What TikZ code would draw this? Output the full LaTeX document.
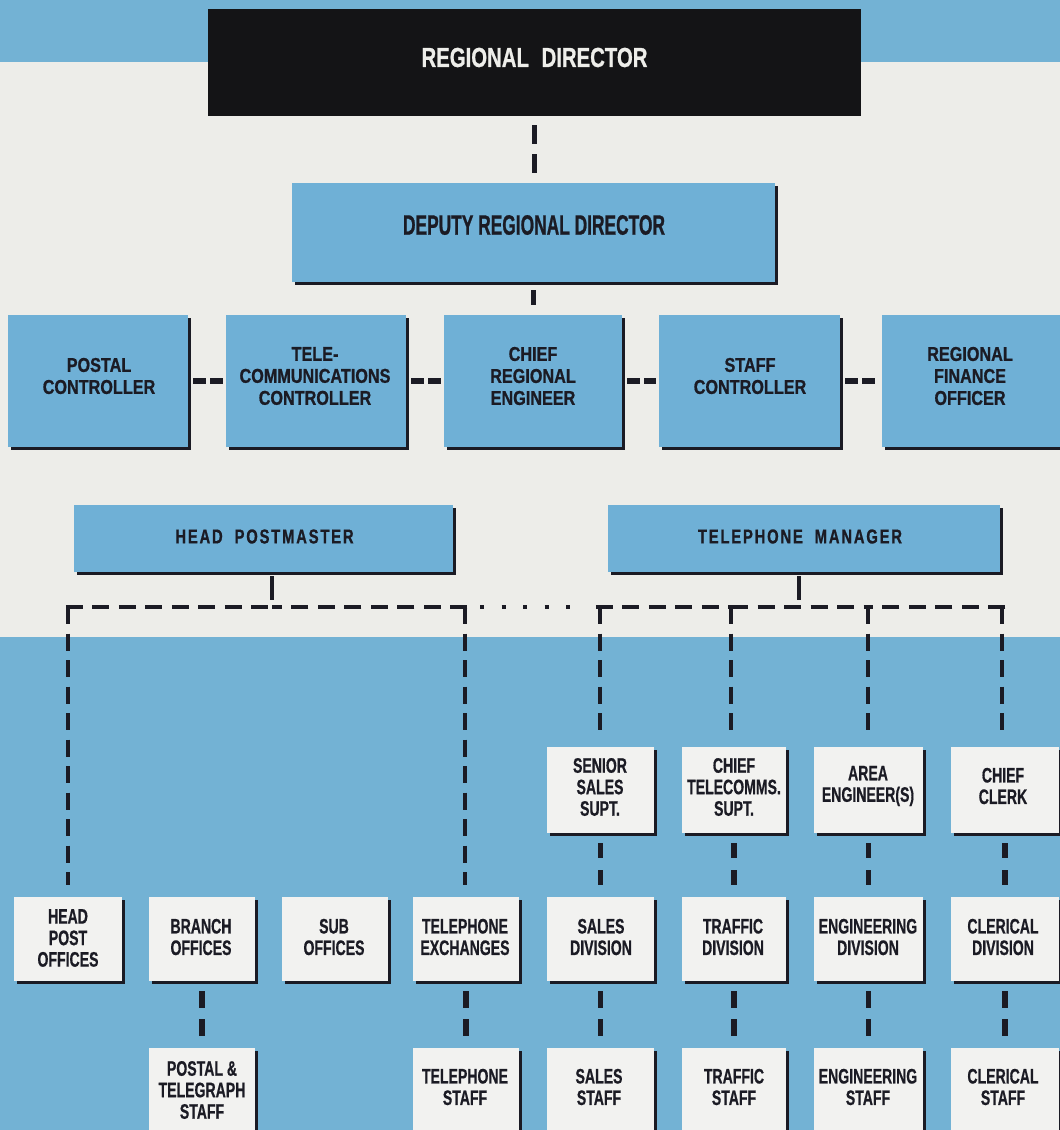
\documentclass[tikz,border=0pt]{standalone}
\usepackage{fontspec}
\setmainfont{Liberation Sans}
\newfontfamily\fRD{Liberation Sans}[FakeStretch=0.74,FakeBold=0.8]
\newfontfamily\fDRD{Liberation Sans}[FakeStretch=0.62,FakeBold=0.8]
\newfontfamily\fRow{Liberation Sans}[FakeStretch=0.81,FakeBold=0.9]
\newfontfamily\fMgr{Liberation Sans}[FakeStretch=0.74,LetterSpace=9,FakeBold=0.9]
\newfontfamily\fLow{Liberation Sans}[FakeStretch=0.67,FakeBold=0.6]
\usetikzlibrary{shadows}
\definecolor{bgblue}{HTML}{73B2D4}
\definecolor{boxblue}{HTML}{6FB0D6}
\definecolor{paper}{HTML}{EDEDE9}
\definecolor{wbox}{HTML}{F2F2F0}
\definecolor{ink}{HTML}{1B1B24}
\definecolor{rdblack}{HTML}{141416}
\definecolor{rdtext}{HTML}{EEEEEA}
\tikzset{
  shad/.style={drop shadow={shadow xshift=3pt,shadow yshift=-3pt,fill=ink,opacity=1}},
  bbox/.style={rectangle, fill=boxblue, inner sep=0pt, shad},
  wbx/.style={rectangle, fill=wbox, inner sep=0pt, shad},
  lbl/.style={align=center, inner sep=0pt, text=ink},
  rowtxt/.style={lbl, font=\fRow\bfseries\fontsize{20}{22}\selectfont},
  mgrtxt/.style={lbl, font=\fMgr\bfseries\fontsize{20}{22}\selectfont},
  lowtxt/.style={lbl, font=\fLow\bfseries\fontsize{21}{21.5}\selectfont},
  link/.style={draw=ink, line width=5.5pt},
  bus/.style={draw=ink, line width=4.5pt, dash pattern=on 17pt off 9.5pt},
}
\begin{document}
\begin{tikzpicture}[x=1pt,y=-1pt]
\useasboundingbox (0,0) rectangle (1060,1130);
% background
\fill[bgblue] (0,0) rectangle (1060,62);
\fill[paper] (0,62) rectangle (1060,637);
\fill[bgblue] (0,637) rectangle (1060,1130);

% top
\node[rectangle, fill=rdblack, inner sep=0pt, minimum width=653pt, minimum height=107pt] (RD) at (534.5,62.5) {};
\node[lbl, text=rdtext, font=\fRD\bfseries\fontsize{27.5}{30}\selectfont] (RDt) at (534.5,57.5) {REGIONAL\hspace{7pt} DIRECTOR};

\node[bbox, minimum width=483pt, minimum height=99pt] (DRD) at (533.5,232.5) {};
\node[lbl, font=\fDRD\bfseries\fontsize{28}{30}\selectfont] (DRDt) at (534,225) {DEPUTY REGIONAL DIRECTOR};

% row 2
\node[bbox, minimum width=180pt, minimum height=132pt] (PC) at (98,381) {};
\node[bbox, minimum width=180pt, minimum height=132pt] (TC) at (316,381) {};
\node[bbox, minimum width=178pt, minimum height=132pt] (CRE) at (533,381) {};
\node[bbox, minimum width=181pt, minimum height=132pt] (SC) at (749.5,381) {};
\node[bbox, minimum width=178pt, minimum height=132pt] (RFO) at (971,381) {};
\node[rowtxt] (PCt) at (99,376) {POSTAL\\CONTROLLER};
\node[rowtxt] (TCt) at (315,376) {TELE-\\COMMUNICATIONS\\CONTROLLER};
\node[rowtxt] (CREt) at (533,376) {CHIEF\\REGIONAL\\ENGINEER};
\node[rowtxt] (SCt) at (750,376) {STAFF\\CONTROLLER};
\node[rowtxt] (RFOt) at (970,376) {REGIONAL\\FINANCE\\OFFICER};

% row 3
\node[bbox, minimum width=379pt, minimum height=67pt] (HP) at (263.5,538.5) {};
\node[bbox, minimum width=392pt, minimum height=67pt] (TM) at (804,538.5) {};
\node[mgrtxt] (HPt) at (264.5,536.5) {HEAD\hspace{6pt} POSTMASTER};
\node[mgrtxt] (TMt) at (800,536.5) {TELEPHONE\hspace{6pt} MANAGER};

% telephone upper row
\node[wbx, minimum width=107pt, minimum height=86pt] (SSS) at (600.5,790) {};
\node[wbx, minimum width=104pt, minimum height=86pt] (CTS) at (734,790) {};
\node[wbx, minimum width=109pt, minimum height=86pt] (AE) at (868.5,790) {};
\node[wbx, minimum width=108pt, minimum height=86pt] (CC) at (1005,790) {};
\node[lowtxt] (SSSt) at (600,787) {SENIOR\\SALES\\SUPT.};
\node[lowtxt] (CTSt) at (734,787) {CHIEF\\TELECOMMS.\\SUPT.};
\node[lowtxt] (AEt) at (868,786) {AREA\\ENGINEER(S)};
\node[lowtxt] (CCt) at (1003,786) {CHIEF\\CLERK};

% division row
\node[wbx, minimum width=108pt, minimum height=84pt] (HPO) at (68,939) {};
\node[wbx, minimum width=106pt, minimum height=84pt] (BO) at (202,939) {};
\node[wbx, minimum width=106pt, minimum height=84pt] (SO) at (335,939) {};
\node[wbx, minimum width=106pt, minimum height=84pt] (TE) at (466,939) {};
\node[wbx, minimum width=107pt, minimum height=84pt] (SD) at (600.5,939) {};
\node[wbx, minimum width=104pt, minimum height=84pt] (TD) at (734,939) {};
\node[wbx, minimum width=109pt, minimum height=84pt] (ED) at (868.5,939) {};
\node[wbx, minimum width=108pt, minimum height=84pt] (CD) at (1005,939) {};
\node[lowtxt] (HPOt) at (68,938) {HEAD\\POST\\OFFICES};
\node[lowtxt] (BOt) at (201,937) {BRANCH\\OFFICES};
\node[lowtxt] (SOt) at (334,937) {SUB\\OFFICES};
\node[lowtxt] (TEt) at (465,937) {TELEPHONE\\EXCHANGES};
\node[lowtxt] (SDt) at (601,937) {SALES\\DIVISION};
\node[lowtxt] (TDt) at (733,937) {TRAFFIC\\DIVISION};
\node[lowtxt] (EDt) at (868,937) {ENGINEERING\\DIVISION};
\node[lowtxt] (CDt) at (1003,937) {CLERICAL\\DIVISION};

% staff row
\node[wbx, minimum width=106pt, minimum height=100pt] (PTS) at (202,1098) {};
\node[wbx, minimum width=106pt, minimum height=100pt] (TS) at (466,1098) {};
\node[wbx, minimum width=107pt, minimum height=100pt] (SST) at (600.5,1098) {};
\node[wbx, minimum width=104pt, minimum height=100pt] (TST) at (734,1098) {};
\node[wbx, minimum width=109pt, minimum height=100pt] (EST) at (868.5,1098) {};
\node[wbx, minimum width=108pt, minimum height=100pt] (CST) at (1005,1098) {};
\node[lowtxt] (PTSt) at (202,1090) {POSTAL \&\\TELEGRAPH\\STAFF};
\node[lowtxt] (TSt) at (465,1087) {TELEPHONE\\STAFF};
\node[lowtxt] (SSTt) at (599,1087) {SALES\\STAFF};
\node[lowtxt] (TSTt) at (734,1087) {TRAFFIC\\STAFF};
\node[lowtxt] (ESTt) at (868,1087) {ENGINEERING\\STAFF};
\node[lowtxt] (CSTt) at (1003,1087) {CLERICAL\\STAFF};

% connectors top
\draw[link, line width=5pt, dash pattern=on 19pt off 10pt, shorten <=9pt, shorten >=10pt] (RD.south) -- (RD.south |- DRD.north);
\draw[link, line width=5pt, shorten <=8pt, shorten >=10pt] (DRD.south) -- (DRD.south |- CRE.north);
\foreach \a/\b in {PC/TC, TC/CRE, CRE/SC, SC/RFO}
  \draw[link, dash pattern=on 13pt off 4pt, shorten <=5pt, shorten >=3pt] (\a.east) -- (\b.west);

% postmaster bus
\coordinate (bl) at (68,607);
\coordinate (bm) at (465,607);
\coordinate (hpj) at (272,607);
\draw[link, line width=4.5pt, shorten <=4pt, shorten >=7pt] (hpj |- HP.south) -- (hpj);
\draw[bus, shorten <=-2.25pt] (bl) -- (hpj);
\draw[bus, shorten <=-2.25pt] (bm) -- (hpj);
\draw[bus, shorten >=12pt] (bl) -- (bl |- HPO.north);
\draw[bus, shorten >=12pt] (bm) -- (bm |- TE.north);

% dotted link
\coordinate (tl) at (598,607);
\draw[ink, line width=4pt, dash pattern=on 4pt off 17.5pt, shorten <=15pt, shorten >=22pt] (bm) -- (tl);

% telephone manager bus
\coordinate (tr) at (1003,607);
\coordinate (t1) at (731,607);
\coordinate (t2) at (868,607);
\coordinate (tmj) at (799,607);
\draw[link, line width=4.5pt, shorten <=4pt, shorten >=7pt] (tmj |- TM.south) -- (tmj);
\draw[bus, shorten <=-2.25pt] (tl) -- (t1);
\draw[bus] (t1) -- (t2);
\draw[bus, shorten <=-2.25pt] (tr) -- (t2);
\draw[bus, shorten >=10pt] (tl) ++(2,0) coordinate (tla) -- (tla |- SSS.north);
\draw[bus, shorten >=10pt] (t1) -- (t1 |- CTS.north);
\draw[bus, shorten >=10pt] (t2) -- (t2 |- AE.north);
\draw[bus, shorten >=10pt] (tr) ++(-1,0) coordinate (tra) -- (tra |- CC.north);

% column links
\foreach \a/\b in {SSS/SD, CTS/TD, AE/ED, CC/CD}
  \draw[link, dash pattern=on 15pt off 12pt, shorten <=10pt, shorten >=12pt] (\a.south) -- (\b.north);
\foreach \a/\b in {BO/PTS, TE/TS, SD/SST, TD/TST, ED/EST, CD/CST}
  \draw[link, dash pattern=on 17pt off 11pt, shorten <=10pt, shorten >=12pt] (\a.south) -- (\b.north);
\end{tikzpicture}
\end{document}
